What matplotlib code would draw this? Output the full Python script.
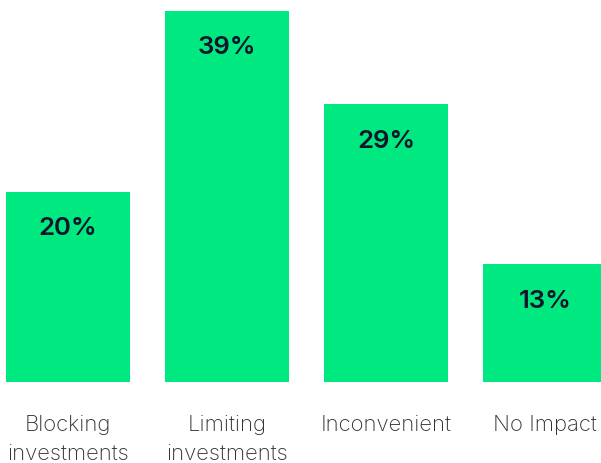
import matplotlib
matplotlib.use('Agg')
from matplotlib import pyplot as plt

# data
categories = ['Blocking\ninvestments', 'Limiting\ninvestments', 'Inconvenient', 'No Impact']
values = [20, 39, 29.2, 12.4]
value_labels = ['20%', '39%', '29%', '13%']

plt.rcParams['font.family'] = ['Inter', 'DejaVu Sans']

fig = plt.figure(figsize=(6.01, 4.64), dpi=100)
ax = fig.add_axes([0, 81 / 464, 1, 383 / 464])

x = range(len(values))
ax.bar(x, values, width=0.78, color='#00e980')
ax.set_xlim(-68 / 159, (601 - 68) / 159)
ax.set_ylim(0, 39 * 383 / 371)

# value labels inside the bars
for i, v in enumerate(values):
    ax.annotate(value_labels[i], (i, v), xytext=(0, -36), textcoords='offset pixels',
                ha='center', va='center', fontsize=18.5, fontweight='semibold',
                color='#14142b')

# category labels below the bars
for i, c in enumerate(categories):
    ax.annotate(c, (i, 0), xytext=(0, -32), textcoords='offset pixels',
                ha='center', va='top', fontsize=15.9, fontweight='light',
                color='#333333', linespacing=1.55, annotation_clip=False)

ax.axis('off')
fig.savefig('out.png', dpi=100)
